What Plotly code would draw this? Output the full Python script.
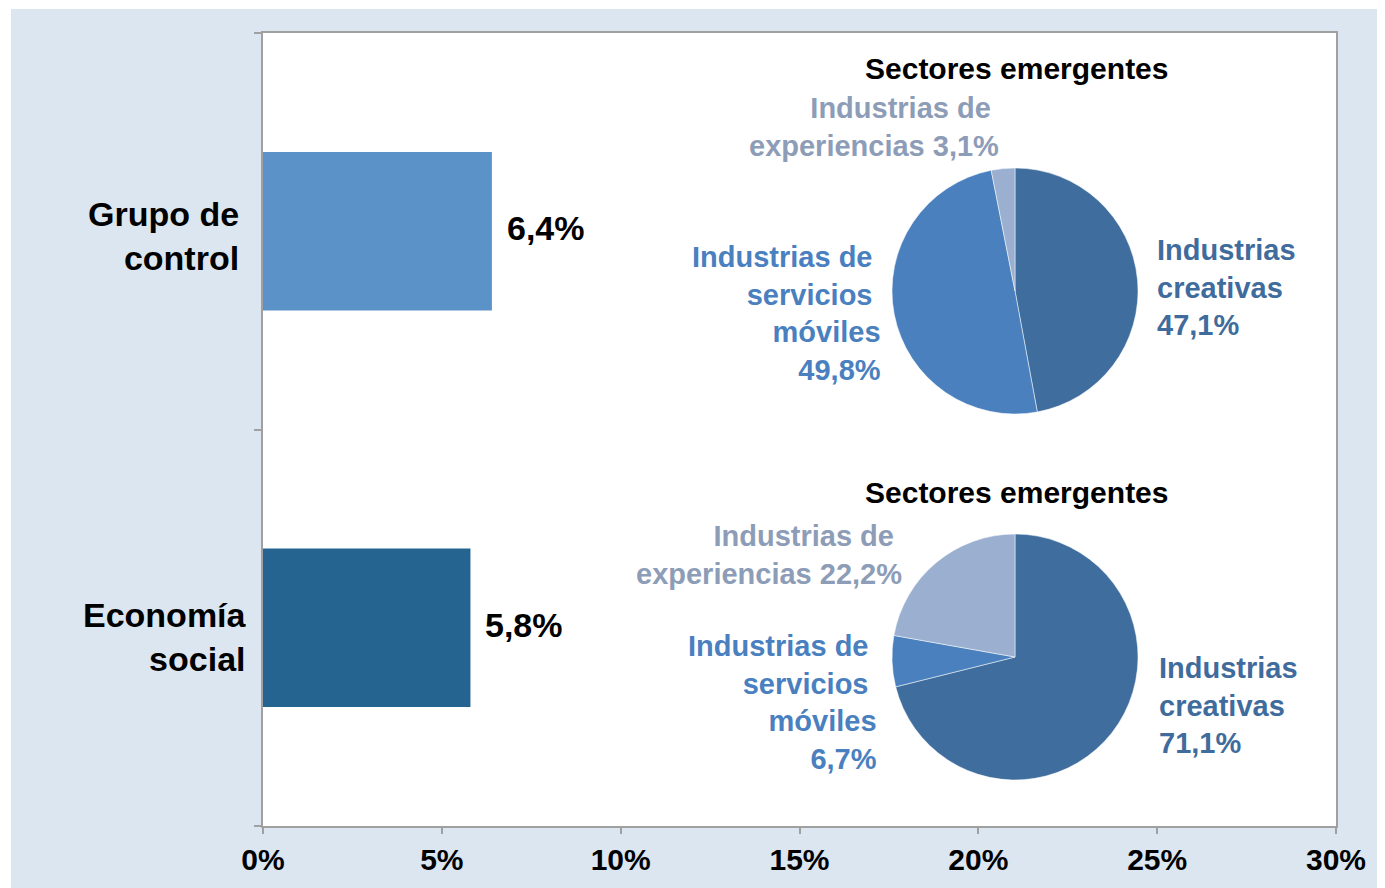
import plotly.graph_objects as go

# bar data
groups = ['Grupo de control', 'Economía social']
group_labels = ['Grupo de<br>control', 'Economía<br>social']
shares = [0.064, 0.058]
bar_colors = ['#5b92c7', '#256491']

# pie data (sectores emergentes), clockwise from 12 o'clock
sectors = ['Industrias creativas', 'Industrias de servicios móviles', 'Industrias de experiencias']
pie_control = [47.1, 49.8, 3.1]
pie_social = [71.1, 6.7, 22.2]
pie_colors = ['#3f6e9e', '#4a80bd', '#9bb0d0']
text_colors = ['#3f6c9c', '#4a7fc0', '#8d9db7']

# page is offset by the 8px body margin
OFF = 8
W, H = 1385 - OFF, 888 - OFF
L, R, T, B = 263, 1336, 33, 826
FONT = 'Arial, Liberation Sans, sans-serif'


def px(x):
    return (x - L) / (R - L)


def py(y):
    return (B - y) / (B - T)


def fmt(v):
    return ('%.1f' % v).replace('.', ',') + '%'


fig = go.Figure()

fig.add_trace(go.Bar(
    y=groups, x=shares, orientation='h',
    marker=dict(color=bar_colors, line=dict(width=0)),
    width=0.4, showlegend=False, hoverinfo='skip'))

pie_boxes = [(pie_control, 892, 1138, 168, 414), (pie_social, 892, 1138, 534, 780)]
for vals, x0, x1, y0, y1 in pie_boxes:
    fig.add_trace(go.Pie(
        labels=sectors, values=vals, sort=False, direction='clockwise', rotation=0,
        marker=dict(colors=pie_colors, line=dict(color='white', width=0.5)),
        textinfo='none', showlegend=False, hoverinfo='skip',
        domain=dict(x=[px(x0), px(x1)], y=[py(y1), py(y0)])))

ann = []
# category labels and bar values
for g, lab, v, xr, ys in zip(groups, group_labels, shares, [241, 249], [-5, -9]):
    ann.append(dict(x=px(xr), xref='paper', y=g, yref='y', text='<b>%s</b>' % lab,
                    xanchor='right', yanchor='middle', align='right', yshift=ys,
                    showarrow=False, font=dict(size=34, color='black', family=FONT)))
    ann.append(dict(x=v, xref='x', y=g, yref='y', text='<b>%s</b>' % fmt(v * 100),
                    xanchor='left', yanchor='middle', xshift=13, yshift=3, showarrow=False,
                    font=dict(size=34, color='black', family=FONT)))

# pie titles and labels
for vals, title_y, exp_xy, mov_xy, cre_xy in [
        (pie_control, 69, (1001, 127), (883, 313), (1155, 287)),
        (pie_social, 493, (904, 555), (879, 702), (1157, 705))]:
    ann.append(dict(x=px(1017), y=py(title_y), xref='paper', yref='paper',
                    text='<b>Sectores emergentes</b>', showarrow=False,
                    xanchor='center', yanchor='middle',
                    font=dict(size=30, color='black', family=FONT)))
    ann.append(dict(x=px(exp_xy[0]), y=py(exp_xy[1]), xref='paper', yref='paper',
                    text='<b>Industrias de <br>experiencias %s</b>' % fmt(vals[2]),
                    xanchor='right', yanchor='middle', align='right', showarrow=False,
                    font=dict(size=29, color=text_colors[2], family=FONT)))
    ann.append(dict(x=px(mov_xy[0]), y=py(mov_xy[1]), xref='paper', yref='paper',
                    text='<b>Industrias de <br>servicios <br>móviles<br>%s</b>' % fmt(vals[1]),
                    xanchor='right', yanchor='middle', align='right', showarrow=False,
                    font=dict(size=29, color=text_colors[1], family=FONT)))
    ann.append(dict(x=px(cre_xy[0]), y=py(cre_xy[1]), xref='paper', yref='paper',
                    text='<b>Industrias<br>creativas<br>%s</b>' % fmt(vals[0]),
                    xanchor='left', yanchor='middle', align='left', showarrow=False,
                    font=dict(size=29, color=text_colors[0], family=FONT)))

# thin white strips at the top and left edge of the page
shapes = [
    dict(type='rect', xref='paper', yref='paper', x0=px(0), x1=px(1385), y0=py(9), y1=py(0),
         fillcolor='white', line=dict(width=0), layer='below'),
    dict(type='rect', xref='paper', yref='paper', x0=px(0), x1=px(11), y0=py(888), y1=py(0),
         fillcolor='white', line=dict(width=0), layer='below'),
]

fig.update_layout(
    width=W, height=H,
    margin=dict(l=L - OFF, r=1385 - R, t=T - OFF, b=888 - B),
    paper_bgcolor='#dbe6f1', plot_bgcolor='white',
    annotations=ann, shapes=shapes,
    xaxis=dict(range=[0, 0.30], tickvals=[0, 0.05, 0.10, 0.15, 0.20, 0.25, 0.30],
               ticktext=['<b>%d%%</b>' % t for t in [0, 5, 10, 15, 20, 25, 30]],
               ticks='outside', ticklen=6, tickcolor='#a0a0a0', tickwidth=2,
               showline=True, linecolor='#a0a0a0', linewidth=2, mirror=True,
               showgrid=False, zeroline=False, automargin=False,
               tickfont=dict(size=30, color='black', family=FONT)),
    yaxis=dict(categoryorder='array', categoryarray=groups[::-1],
               showticklabels=False, ticks='outside', tickson='boundaries',
               ticklen=7, tickcolor='#a0a0a0', tickwidth=2,
               showline=True, linecolor='#a0a0a0', linewidth=2, mirror=True,
               showgrid=False, zeroline=False, automargin=False),
)

fig.write_html('out.html')
